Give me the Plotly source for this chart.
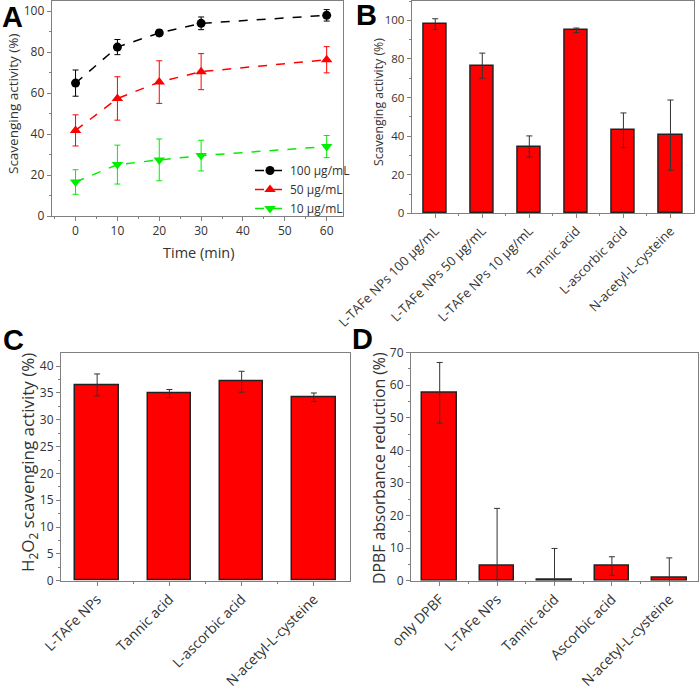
import plotly.graph_objects as go

# ---------- Data ----------
# Panel A
time_min = [0, 10, 20, 30, 60]
a_100 = [64.9, 82.5, 89.4, 94.1, 98.0]
a_100_err = [6.4, 3.7, 1.5, 3.1, 2.8]
a_50 = [41.8, 57.4, 65.4, 70.5, 76.3]
a_50_err = [7.6, 10.6, 10.4, 8.8, 6.4]
a_10 = [16.6, 25.1, 27.4, 29.5, 33.9]
a_10_err = [6.0, 9.5, 10.2, 7.5, 5.4]
a_names = ["100 μg/mL", "50 μg/mL", "10 μg/mL"]

# Panel B
b_cats = ["L-TAFe NPs 100 μg/mL", "L-TAFe NPs 50 μg/mL", "L-TAFe NPs 10 μg/mL",
          "Tannic acid", "L-ascorbic acid", "N-acetyl-L-cysteine"]
b_vals = [98.0, 76.5, 34.6, 94.8, 43.0, 40.5]
b_err = [2.8, 6.5, 5.5, 1.2, 9.0, 18.2]

# Panel C
c_cats = ["L-TAFe NPs", "Tannic acid", "L-ascorbic acid", "N-acetyl-L-cysteine"]
c_vals = [36.5, 34.9, 37.1, 34.2]
c_err = [2.05, 0.75, 1.95, 0.8]

# Panel D
d_cats = ["only DPBF", "L-TAFe NPs", "Tannic acid", "Ascorbic acid", "N-acetyl-L-cysteine"]
d_vals = [57.7, 4.7, 0.4, 4.5, 1.0]
d_err = [9.3, 17.5, 9.5, 2.85, 6.0]

FONT = "Open Sans"
W, H = 700, 689
AX = "#808080"
TXT = "#333333"

def px(x):
    return x / W

def py(y):
    return 1 - y / H

fig = go.Figure()

# ---------- Panel A ----------
styles = [("black", "circle", 9), ("red", "triangle-up", 10), ("#00ee00", "triangle-down", 10)]
for vals, errs, name, (col, sym, sz) in zip([a_100, a_50, a_10], [a_100_err, a_50_err, a_10_err], a_names, styles):
    fig.add_trace(go.Scatter(
        x=time_min, y=vals, name=name, mode="lines+markers",
        line=dict(color=col, dash="dash", width=1.5),
        marker=dict(color=col, symbol=sym, size=sz),
        error_y=dict(type="data", array=errs, color=col, thickness=1, width=3),
        xaxis="x", yaxis="y",
    ))

def bar_trace(cats, vals, errs, xa, ya, width):
    return go.Bar(
        x=list(range(len(cats))), y=vals, width=width, showlegend=False,
        marker=dict(color="#ff0000", line=dict(color="#222222", width=1.5)),
        error_y=dict(type="data", array=errs, color="#333333", thickness=1, width=3),
        xaxis=xa, yaxis=ya,
    )

fig.add_trace(bar_trace(b_cats, b_vals, b_err, "x2", "y2", 0.5))
fig.add_trace(bar_trace(c_cats, c_vals, c_err, "x3", "y3", 0.6))
fig.add_trace(bar_trace(d_cats, d_vals, d_err, "x4", "y4", 0.6))

def axis_common(**kw):
    d = dict(showline=True, linecolor=AX, linewidth=1, mirror=True,
             ticks="outside", ticklen=4, tickcolor=AX, tickwidth=1,
             showgrid=False, zeroline=False, automargin=False,
             tickfont=dict(family=FONT, size=12, color=TXT))
    d.update(kw)
    return d

fig.update_layout(
    template="none",
    width=W, height=H, margin=dict(l=0, r=0, t=0, b=0, autoexpand=False),
    paper_bgcolor="white", plot_bgcolor="white",
    font=dict(family=FONT, color=TXT),
    bargap=0,
    # A
    xaxis=axis_common(domain=[px(51.7), px(343)], anchor="y", range=[-5.7, 63.9],
                      tickvals=[0, 10, 20, 30, 40, 50, 60],
                      minor=dict(ticks="outside", dtick=5, ticklen=2, tickcolor=AX)),
    yaxis=axis_common(domain=[py(216), py(1)], anchor="x", range=[0, 105],
                      tickvals=[0, 20, 40, 60, 80, 100],
                      minor=dict(ticks="outside", dtick=10, ticklen=2, tickcolor=AX)),
    # B
    xaxis2=axis_common(domain=[px(411.7), px(694)], anchor="y2", range=[-0.5, 5.5],
                       tickvals=list(range(len(b_cats))), ticktext=b_cats, tickangle=-45,
                       tickfont=dict(family=FONT, size=13, color=TXT),
                       minor=dict(ticks="outside", tickvals=[i + 0.5 for i in range(len(b_cats) - 1)], ticklen=2, tickcolor=AX)),
    yaxis2=axis_common(domain=[py(213.3), py(1)], anchor="x2", range=[0, 110],
                       tickvals=[0, 20, 40, 60, 80, 100], tickfont=dict(family=FONT, size=11.5, color=TXT),
                       minor=dict(ticks="outside", dtick=10, ticklen=2, tickcolor=AX)),
    # C
    xaxis3=axis_common(domain=[px(61), px(350)], anchor="y3", range=[-0.5, 3.5],
                       tickvals=list(range(len(c_cats))), ticktext=c_cats, tickangle=-45,
                       tickfont=dict(family=FONT, size=14, color=TXT),
                       minor=dict(ticks="outside", tickvals=[i + 0.5 for i in range(len(c_cats) - 1)], ticklen=2, tickcolor=AX)),
    yaxis3=axis_common(domain=[py(580.7), py(353.3)], anchor="x3", range=[0, 42.4],
                       tickvals=[0, 5, 10, 15, 20, 25, 30, 35, 40],
                       minor=dict(ticks="outside", dtick=2.5, ticklen=2, tickcolor=AX)),
    # D
    xaxis4=axis_common(domain=[px(411), px(698)], anchor="y4", range=[-0.5, 4.5],
                       tickvals=list(range(len(d_cats))), ticktext=d_cats, tickangle=-45,
                       tickfont=dict(family=FONT, size=14, color=TXT),
                       minor=dict(ticks="outside", tickvals=[i + 0.5 for i in range(len(d_cats) - 1)], ticklen=2, tickcolor=AX)),
    yaxis4=axis_common(domain=[py(580.7), py(352.7)], anchor="x4", range=[0, 70],
                       tickvals=[0, 10, 20, 30, 40, 50, 60, 70],
                       minor=dict(ticks="outside", dtick=5, ticklen=2, tickcolor=AX)),
    legend=dict(x=px(250), y=py(156), xanchor="left", yanchor="top",
                bgcolor="rgba(0,0,0,0)", font=dict(family=FONT, size=12, color=TXT),
                tracegroupgap=0, itemwidth=30),
)

# axis titles
titles = [
    ("Scavenging activity (%)", 13, 104, 13.5, -90),
    ("Scavenging activity (%)", 378, 102, 12.3, -90),
    ("H<sub>2</sub>O<sub>2</sub> scavenging activity (%)", 28, 463, 17, -90),
    ("DPBF absorbance reduction (%)", 379, 468, 15.8, -90),
    ("Time (min)", 199, 253, 14.5, 0),
]
for t, x, y, s, ang in titles:
    fig.add_annotation(text=t, x=px(x), y=py(y), xref="paper", yref="paper",
                       showarrow=False, xanchor="center", yanchor="middle", textangle=ang,
                       font=dict(family=FONT, size=s, color=TXT))

letters = [("A", 12, 17), ("B", 366, 15), ("C", 13, 340), ("D", 362, 339)]
for t, x, y in letters:
    fig.add_annotation(text="<b>%s</b>" % t, x=px(x), y=py(y), xref="paper", yref="paper",
                       showarrow=False, xanchor="center", yanchor="middle",
                       font=dict(family="Liberation Sans", size=29, color="black"))

fig.write_html("out.html", config={"displayModeBar": False},
               post_script="document.body.style.margin='0';")
